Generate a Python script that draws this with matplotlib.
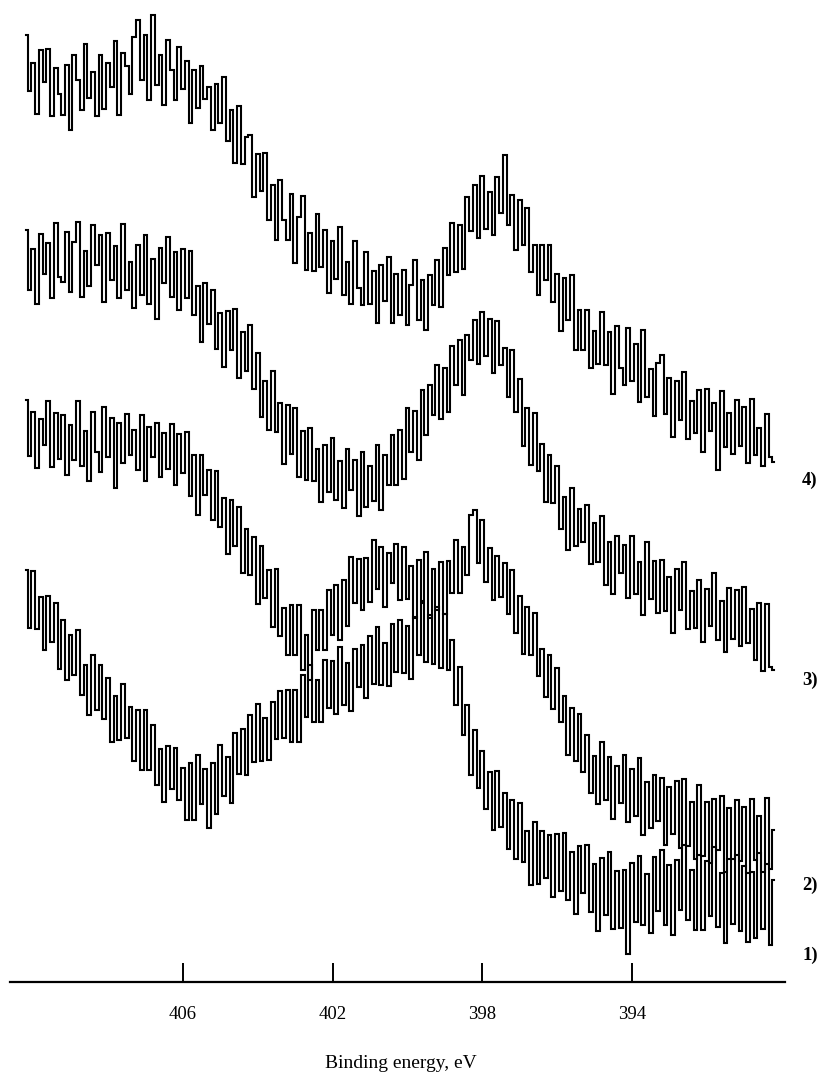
import numpy as np
import matplotlib
matplotlib.use("Agg")
import matplotlib.pyplot as plt

# Binding energy grid (eV), 0.1 eV step from 410.2 down to 390.2
energy = np.linspace(410.2, 390.2, 201)

# Intensities (arbitrary units, curves already stacked)
spec4 = [965, 909, 937, 886, 950, 918, 951, 884, 932, 906,
         885, 935, 870, 945, 920, 890, 956, 902, 928, 884,
         945, 891, 937, 913, 959, 885, 947, 934, 906, 963,
         980, 920, 965, 900, 985, 915, 945, 895, 960, 930,
         900, 953, 911, 939, 877, 930, 892, 934, 901, 913,
         870, 916, 877, 923, 859, 890, 837, 894, 836, 863,
         865, 803, 846, 809, 847, 780, 815, 760, 820, 780,
         760, 806, 737, 783, 804, 730, 767, 729, 786, 733,
         770, 707, 759, 721, 773, 705, 738, 696, 759, 712,
         695, 748, 696, 729, 677, 735, 699, 743, 677, 726,
         685, 730, 675, 715, 740, 680, 720, 670, 725, 695,
         740, 693, 752, 725, 777, 728, 775, 731, 803, 769,
         815, 762, 824, 771, 808, 765, 823, 787, 845, 775,
         805, 750, 800, 755, 792, 728, 755, 705, 755, 720,
         755, 698, 726, 669, 722, 680, 725, 650, 690, 650,
         690, 632, 669, 636, 688, 635, 668, 606, 674, 632,
         615, 672, 619, 656, 598, 670, 603, 631, 584, 637,
         645, 586, 622, 563, 619, 580, 628, 561, 599, 567,
         610, 548, 611, 569, 597, 530, 609, 553, 587, 546,
         600, 554, 593, 537, 601, 545, 572, 534, 586, 543,
         538]

spec3 = [770, 710, 751, 696, 766, 726, 757, 702, 777, 723,
         718, 768, 708, 758, 778, 703, 749, 714, 775, 735,
         765, 698, 767, 720, 754, 702, 776, 710, 738, 692,
         755, 705, 765, 696, 741, 681, 752, 717, 763, 703,
         748, 690, 751, 702, 749, 685, 714, 658, 717, 676,
         710, 651, 687, 633, 689, 650, 691, 622, 668, 629,
         675, 611, 647, 583, 619, 570, 629, 568, 597, 536,
         595, 546, 592, 523, 569, 520, 572, 519, 551, 498,
         555, 508, 562, 500, 539, 492, 551, 510, 540, 484,
         548, 493, 534, 499, 555, 490, 545, 515, 565, 515,
         570, 521, 592, 548, 589, 540, 610, 565, 615, 585,
         635, 581, 632, 588, 654, 615, 660, 605, 665, 640,
         680, 636, 688, 644, 681, 627, 679, 635, 652, 603,
         650, 588, 621, 554, 592, 535, 587, 529, 556, 498,
         545, 497, 534, 471, 503, 450, 512, 454, 491, 458,
         495, 436, 477, 438, 484, 415, 458, 406, 464, 427,
         455, 402, 464, 406, 438, 385, 458, 401, 439, 387,
         440, 389, 423, 367, 431, 390, 438, 371, 409, 372,
         420, 358, 411, 374, 427, 360, 399, 348, 412, 361,
         410, 354, 413, 357, 391, 340, 397, 329, 396, 333,
         330]

spec2 = [600, 544, 588, 532, 581, 555, 599, 533, 587, 541,
         585, 525, 575, 540, 599, 534, 569, 519, 588, 548,
         528, 593, 543, 582, 512, 577, 537, 586, 545, 570,
         530, 585, 519, 573, 543, 577, 523, 567, 531, 576,
         515, 566, 527, 568, 504, 545, 485, 545, 505, 530,
         480, 529, 473, 502, 446, 500, 454, 493, 427, 471,
         425, 463, 396, 454, 402, 430, 373, 431, 364, 392,
         345, 395, 345, 395, 330, 365, 320, 390, 350, 390,
         350, 410, 365, 415, 360, 420, 374, 443, 397, 441,
         390, 442, 398, 460, 411, 453, 393, 447, 417, 456,
         400, 453, 401, 434, 382, 440, 399, 448, 382, 431,
         390, 438, 386, 439, 407, 460, 407, 453, 425, 485,
         490, 437, 480, 418, 452, 400, 444, 403, 437, 386,
         430, 367, 404, 346, 393, 345, 387, 324, 351, 303,
         345, 291, 332, 278, 304, 245, 292, 239, 286, 228,
         265, 207, 244, 196, 258, 200, 243, 181, 234, 197,
         245, 178, 231, 184, 242, 165, 218, 172, 225, 179,
         222, 155, 213, 166, 219, 152, 221, 154, 198, 141,
         215, 144, 198, 137, 201, 150, 204, 128, 192, 141,
         200, 139, 193, 127, 201, 140, 184, 128, 202, 131,
         170]

spec1 = [430, 372, 429, 371, 403, 350, 404, 358, 397, 331,
         380, 320, 365, 325, 370, 305, 335, 285, 345, 290,
         335, 281, 322, 258, 304, 260, 316, 262, 293, 239,
         290, 230, 290, 230, 275, 215, 251, 198, 254, 211,
         252, 200, 232, 180, 237, 180, 245, 196, 231, 172,
         237, 186, 255, 204, 243, 197, 267, 226, 271, 225,
         285, 238, 296, 239, 282, 240, 298, 261, 309, 262,
         310, 258, 310, 258, 325, 283, 335, 278, 320, 278,
         340, 292, 339, 286, 353, 295, 337, 289, 351, 313,
         355, 302, 364, 316, 373, 315, 357, 314, 376, 328,
         380, 327, 374, 321, 383, 345, 397, 338, 385, 336,
         393, 332, 386, 330, 360, 295, 333, 265, 295, 225,
         270, 212, 249, 191, 228, 170, 229, 173, 207, 151,
         200, 141, 197, 138, 169, 115, 178, 116, 169, 122,
         165, 103, 166, 109, 167, 100, 148, 86, 154, 107,
         155, 88, 136, 69, 142, 85, 148, 71, 129, 72,
         130, 46, 137, 78, 144, 75, 126, 67, 143, 89,
         150, 75, 135, 65, 140, 90, 155, 80, 130, 70,
         145, 70, 139, 84, 153, 73, 127, 57, 141, 76,
         145, 69, 134, 58, 128, 62, 147, 71, 136, 55,
         120]

spectra = [spec1, spec2, spec3, spec4]
curve_labels = ["1)", "2)", "3)", "4)"]
label_y = [955, 885, 680, 480]          # label positions (pixels from top)
tick_values = [406, 402, 398, 394]
xlabel = "Binding energy, eV"

W, H = 826, 1081
fig = plt.figure(figsize=(W / 100, H / 100), dpi=100)
ax = fig.add_axes([10 / W, (H - 982) / H, 775 / W, 982 / H])

for s in spectra:
    ax.plot(energy, s, color="black", lw=1.5, drawstyle="steps-mid",
            clip_on=False, solid_joinstyle="miter")

ax.set_xlim(410.62, 389.91)
ax.set_ylim(18, 1000)

for side in ["top", "right", "left"]:
    ax.spines[side].set_visible(False)
ax.spines["bottom"].set_linewidth(1.6)
ax.set_yticks([])
ax.set_xticks(tick_values)
ax.set_xticklabels([str(t) for t in tick_values])
ax.tick_params(axis="x", direction="in", length=14, width=1.4, pad=17,
               labelsize=13.5)
for lab in ax.get_xticklabels():
    lab.set_family("Liberation Serif")

fig.text(401 / W, 1 - 1063 / H, xlabel, ha="center", va="center",
         fontsize=14, family="Liberation Serif")

for lab, yp in zip(curve_labels, label_y):
    fig.text(810 / W, 1 - yp / H, lab, ha="center", va="center",
             fontsize=13.5, fontweight="bold", family="Liberation Serif")

fig.savefig("out.png", dpi=100)
